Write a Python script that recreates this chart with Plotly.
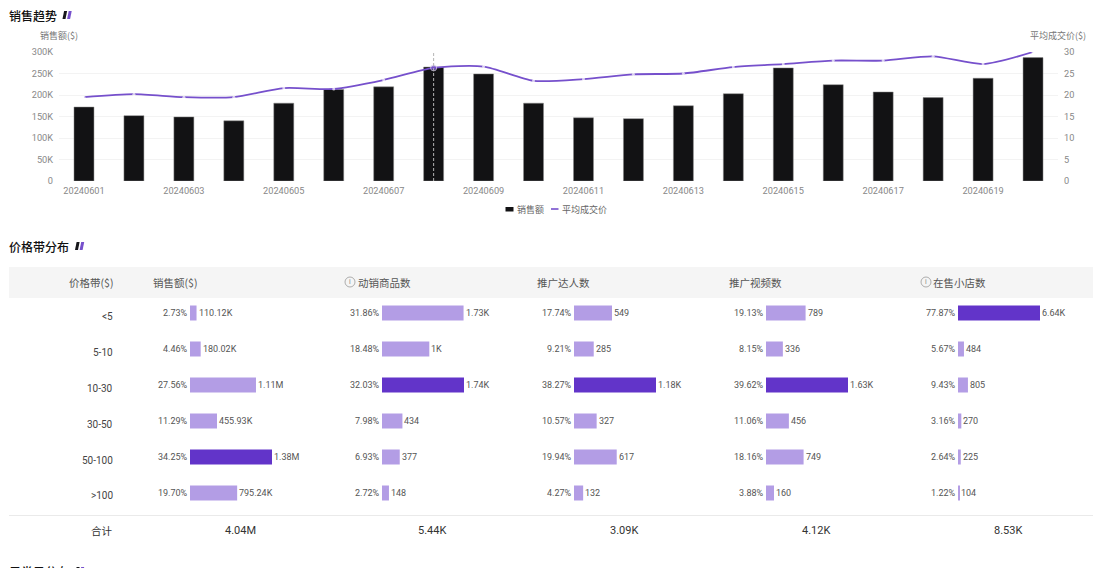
import plotly.graph_objects as go

W, H = 1093, 568
dates = [f"202406{d:02d}" for d in range(1, 21)]
sales = [172, 152, 149, 140, 181, 213, 219, 265, 249, 181, 147, 145, 175, 203, 263, 224, 207, 194, 239, 287]
price = [19.5, 20.2, 19.5, 19.5, 21.6, 21.4, 23.5, 26.3, 26.6, 23.3, 23.7, 24.8, 25.0, 26.5, 27.2, 28.0, 28.0, 29.0, 27.2, 30.0]
hover_date = "20240608"

bands = ["<5", "5-10", "10-30", "30-50", "50-100", ">100"]
band_labels = ["&lt;5", "5-10", "10-30", "30-50", "50-100", "&gt;100"]
sales_pct = [2.73, 4.46, 27.56, 11.29, 34.25, 19.70]
sales_txt = ["110.12K", "180.02K", "1.11M", "455.93K", "1.38M", "795.24K"]
goods_pct = [31.86, 18.48, 32.03, 7.98, 6.93, 2.72]
goods_txt = ["1.73K", "1K", "1.74K", "434", "377", "148"]
kol_pct = [17.74, 9.21, 38.27, 10.57, 19.94, 4.27]
kol_txt = ["549", "285", "1.18K", "327", "617", "132"]
video_pct = [19.13, 8.15, 39.62, 11.06, 18.16, 3.88]
video_txt = ["789", "336", "1.63K", "456", "749", "160"]
shop_pct = [77.87, 5.67, 9.43, 3.16, 2.64, 1.22]
shop_txt = ["6.64K", "484", "805", "270", "225", "104"]
totals = ["4.04M", "5.44K", "3.09K", "4.12K", "8.53K"]
headers = ["销售额($)", "动销商品数", "推广达人数", "推广视频数", "在售小店数"]
header_x = [153, 358, 537, 729, 933]
bar_start = [190, 382, 574, 766, 958]
columns = [(sales_pct, sales_txt), (goods_pct, goods_txt), (kol_pct, kol_txt), (video_pct, video_txt), (shop_pct, shop_txt)]
legend_names = ["销售额", "平均成交价"]

FONT = "Roboto, 'Noto Sans CJK SC', sans-serif"
CJK = "'Noto Sans CJK SC', Roboto, sans-serif"
DARK, LIGHT = "#6234C9", "#B39DE5"
LINE = "#7650CC"

def px(x): return x / W
def py(y): return 1 - y / H

anns, shapes = [], []
def label(x, y, text, size=10, color="#555", anchor="left", family=FONT, weight=None, yshift=0):
    f = dict(size=size, color=color, family=family)
    if weight: f["weight"] = weight
    anns.append(dict(x=px(x), y=py(y), xref="paper", yref="paper", text=text, showarrow=False, yshift=yshift,
                     xanchor=anchor, yanchor="middle", font=f, borderpad=0, borderwidth=0))
def rect(x0, y0, x1, y1, color):
    shapes.append(dict(type="rect", xref="paper", yref="paper", x0=px(x0), x1=px(x1), y0=py(y0), y1=py(y1),
                       fillcolor=color, line_width=0, layer="below"))
def slant(x, y, color):
    path = f"M{px(x)},{py(y+8)} L{px(x+1.6)},{py(y)} L{px(x+4.6)},{py(y)} L{px(x+3)},{py(y+8)} Z"
    shapes.append(dict(type="path", xref="paper", yref="paper", path=path, fillcolor=color, line_width=0))
def title(x, y, text, ix, yshift=0):
    label(x, y, text, size=12, color="#111", family=CJK, weight=500, yshift=yshift)
    slant(ix, y - 4 - yshift, "#16161a")
    slant(ix + 4.6, y - 4 - yshift, LINE)
def info(x, y):
    shapes.append(dict(type="circle", xref="paper", yref="paper", x0=px(x-5), x1=px(x+5), y0=py(y+5), y1=py(y-5),
                       line=dict(color="#999", width=0.8), fillcolor="rgba(0,0,0,0)"))
    label(x, y, "i", size=7, color="#888", anchor="center")

hi = dates.index(hover_date)
fig = go.Figure()
fig.add_bar(x=dates, y=[v * 1000 for v in sales], name=legend_names[0], marker=dict(color="#121214", line=dict(color="#8a8a8a", width=0.5)),
            xaxis="x", yaxis="y", width=0.4, showlegend=False)
fig.add_scatter(x=dates, y=price, name=legend_names[1], mode="lines+markers", line=dict(color=LINE, width=1.8, shape="spline", smoothing=0.7),
                marker=dict(size=[6 if d == hover_date else 3 for d in dates], color=[LINE if d == hover_date else "#fff" for d in dates],
                            line=dict(color="#E8E0F8", width=[1 if d == hover_date else 0 for d in dates])),
                xaxis="x", yaxis="y2", showlegend=False)
shapes.append(dict(type="line", xref="x", yref="paper", x0=hi, x1=hi, y0=py(181), y1=py(52),
                   line=dict(color="#b4b4b4", width=1, dash="3px,2px")))

layout_axes = {}
for i, ((pct, txt), start) in enumerate(zip(columns, bar_start)):
    n = i + 3
    top = max(pct)
    fig.add_bar(y=bands, x=pct, orientation="h", xaxis=f"x{n}", yaxis="y3", showlegend=False, width=15 / 36,
                marker=dict(color=[DARK if v == top else LIGHT for v in pct], line_width=0))
    layout_axes[f"xaxis{n}"] = dict(domain=[px(start), px(start + 82)], range=[0, top], anchor="y3", visible=False)
    for b, v, t in zip(bands, pct, txt):
        anns.append(dict(x=0, y=b, xref=f"x{n}", yref="y3", text=f"{v:.2f}%", showarrow=False, xanchor="right", yanchor="middle",
                         xshift=0, font=dict(size=9, color="#555", family=FONT)))
        anns.append(dict(x=v, y=b, xref=f"x{n}", yref="y3", text=t, showarrow=False, xanchor="left", yanchor="middle",
                         xshift=0, font=dict(size=9, color="#555", family=FONT)))
    label(header_x[i], 282, headers[i], size=10.5, color="#555", family=CJK)
    label(start + 50, 530, totals[i], size=11, color="#333", anchor="center")

rect(9, 267, W, 298, "#F5F5F5")
rect(9, 515, W, 516, "#EAEAEA")
title(9, 15, "销售趋势", 62.5)
title(9, 246, "价格带分布", 75)
title(9, H, "子类目分布", 75, yshift=-3)
label(40, 35.5, "销售额($)", size=9, color="#777", family=CJK)
label(1086, 35.5, "平均成交价($)", size=9, color="#777", anchor="right", family=CJK)
label(113, 282, "价格带($)", size=10.5, color="#555", anchor="right", family=CJK)
for b, y in zip(band_labels, [313, 349, 385, 421, 457, 493]):
    label(113, y + 3, b, size=10, color="#444", anchor="right")
label(113, 530, "合计", size=10.5, color="#333", anchor="right", family=CJK)
info(350, 282)
info(926, 282)

# legend
shapes.append(dict(type="rect", xref="paper", yref="paper", x0=px(505.5), x1=px(513.5), y0=py(211.5), y1=py(207),
                   fillcolor="#121214", line_width=0))
shapes.append(dict(type="line", xref="paper", yref="paper", x0=px(551), x1=px(558.5), y0=py(209), y1=py(209),
                   line=dict(color=LINE, width=1.6)))
label(517, 209, legend_names[0], size=9, color="#666", family=CJK)
label(562, 209, legend_names[1], size=9, color="#666", family=CJK)

fig.update_layout(
    width=W, height=H, autosize=False, margin=dict(l=0, r=0, t=0, b=0, pad=0, autoexpand=False), paper_bgcolor="#fff", plot_bgcolor="#fff",
    showlegend=False, font=dict(family=FONT, size=10, color="#777"), barmode="overlay",
    xaxis=dict(domain=[px(59), px(1058)], type="category", anchor="y", tickvals=dates[::2], ticks="", showgrid=False,
               showline=False, tickfont=dict(size=9.2, color="#888"), categoryorder="array", categoryarray=dates, range=[-0.5, 19.5],
               ticklabelstandoff=3),
    yaxis=dict(domain=[py(181), py(52)], range=[0, 300000], tickvals=[0, 50000, 100000, 150000, 200000, 250000, 300000],
               ticktext=["0", "50K", "100K", "150K", "200K", "250K", "300K"], gridcolor="#F3F3F3", zeroline=False,
               tickfont=dict(size=9.2, color="#888"), anchor="x", ticklabelstandoff=5),
    yaxis2=dict(domain=[py(181), py(52)], range=[0, 30], tickvals=[0, 5, 10, 15, 20, 25, 30], overlaying="y", side="right",
                showgrid=False, zeroline=False, tickfont=dict(size=9.2, color="#888"), anchor="x", ticklabelstandoff=5),
    yaxis3=dict(domain=[py(511), py(295)], type="category", categoryorder="array", categoryarray=bands, range=[5.5, -0.5],
                visible=False, anchor="x3"),
    annotations=anns, shapes=shapes, **layout_axes,
)
fig.write_html("out.html", config={"displayModeBar": False},
               post_script="document.body.style.margin='0';document.body.style.overflow='hidden';")
